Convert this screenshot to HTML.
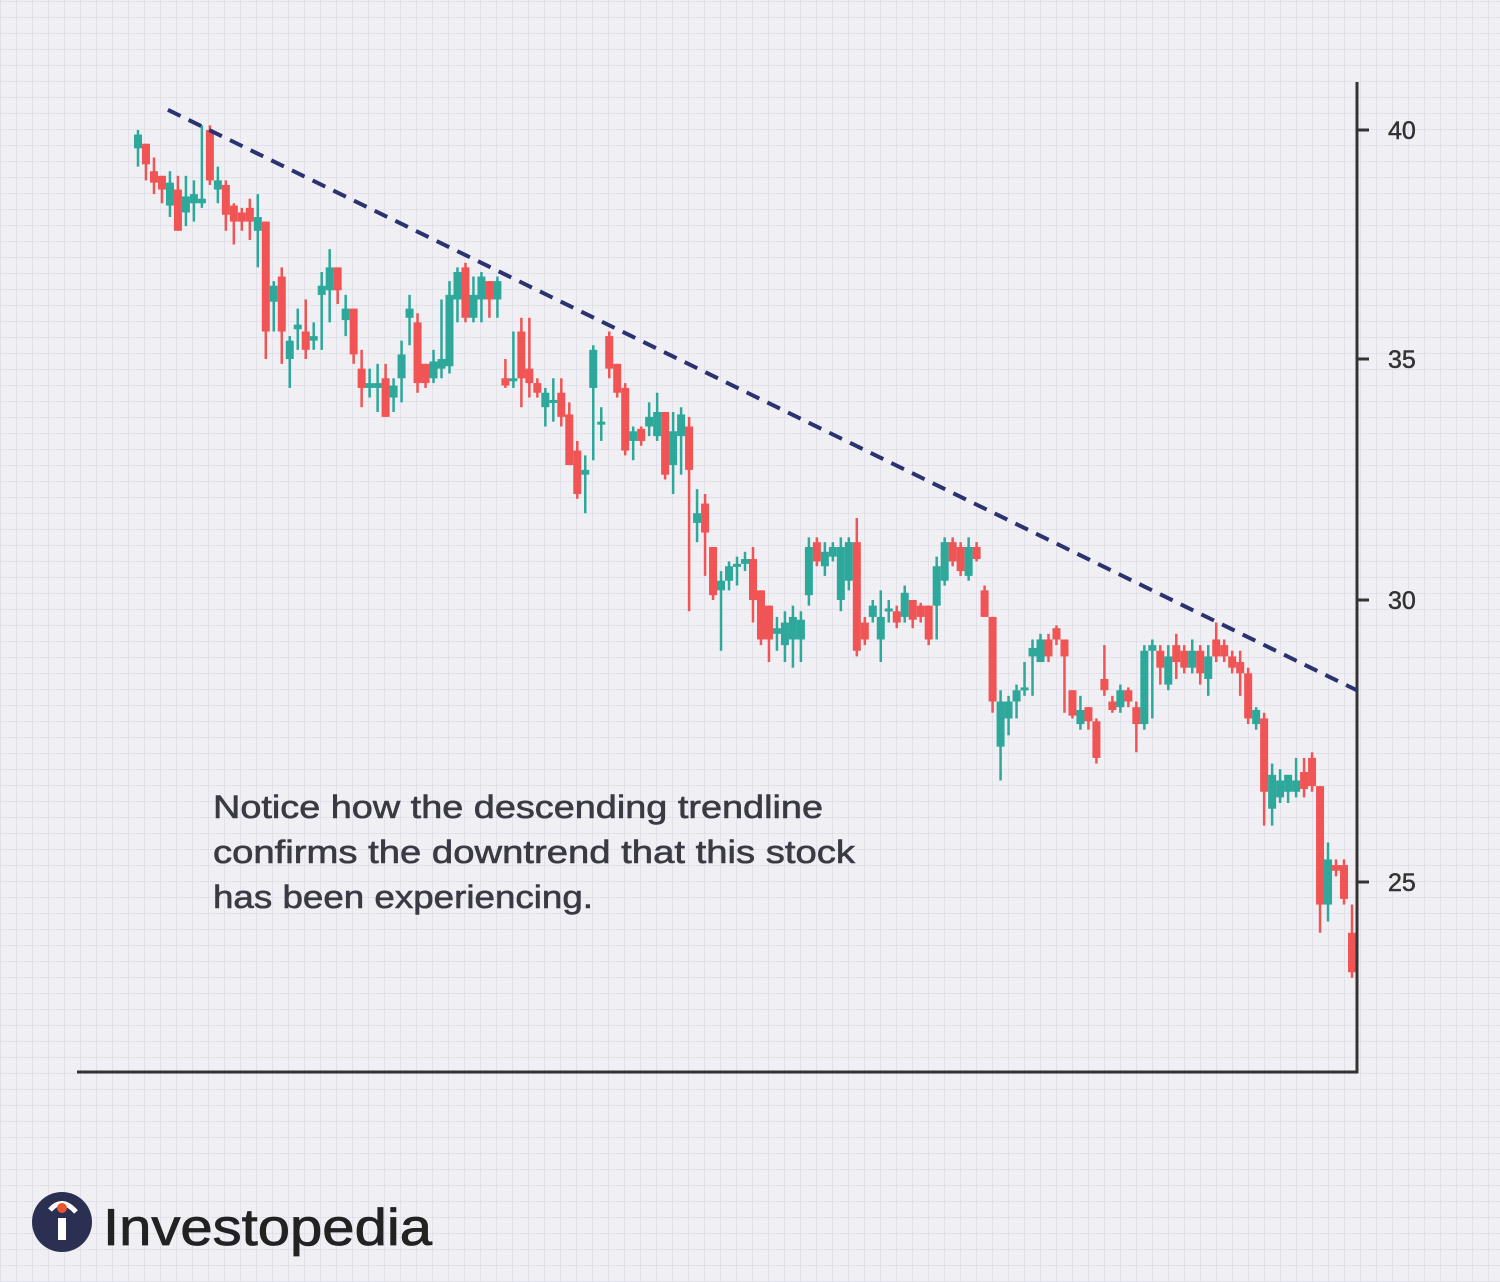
<!DOCTYPE html>
<html><head><meta charset="utf-8"><style>
html,body{margin:0;padding:0}
body{width:1500px;height:1282px;overflow:hidden;background-color:#f0eff4;
background-image:repeating-linear-gradient(0deg,rgba(200,200,215,.35) 0 1px,transparent 1px 16px),repeating-linear-gradient(90deg,rgba(200,200,215,.35) 0 1px,transparent 1px 16px);
font-family:"Liberation Sans",sans-serif}
svg{position:absolute;left:0;top:0}
</style></head><body>
<svg id="chart" width="1500" height="1282" viewBox="0 0 1500 1282">
<g id="candles"></g>
<line x1="1357" y1="82" x2="1357" y2="1073" stroke="#333" stroke-width="3"/>
<line x1="77" y1="1072" x2="1358" y2="1072" stroke="#333" stroke-width="3"/>
<g id="ticks"></g>
<line id="trend" stroke="#2b3270" stroke-width="4" stroke-dasharray="14 9"/>
<g fill="#3a3a44" stroke="#3a3a44" stroke-width="0.6" font-size="32">
<text x="213" y="818" textLength="610" lengthAdjust="spacingAndGlyphs">Notice how the descending trendline</text>
<text x="213" y="863" textLength="642" lengthAdjust="spacingAndGlyphs">confirms the downtrend that this stock</text>
<text x="213" y="908" textLength="380" lengthAdjust="spacingAndGlyphs">has been experiencing.</text>
</g>
<g>
<circle cx="62" cy="1222" r="30" fill="#2b3052"/>
<path d="M50 1210 Q62 1196 76 1212" stroke="#fff" stroke-width="5" fill="none"/>
<rect x="58" y="1218" width="8" height="22" fill="#fff"/>
<circle cx="62" cy="1208" r="5" fill="#e8552f"/>
<text x="103" y="1245" font-size="52" fill="#222" stroke="#222" stroke-width="0.8" textLength="329" lengthAdjust="spacingAndGlyphs">Investopedia</text>
</g>
</svg>
<script>
const opens=[39.6,39.7,39.1,39.0,38.35,38.7,38.2,38.4,38.4,40.0,38.7,38.8,38.35,38.2,38.3,37.8,38.0,36.25,36.8,35.0,35.65,35.6,35.4,36.4,36.5,37.0,35.85,36.1,34.8,34.4,34.4,34.6,34.2,34.6,35.9,35.8,34.9,34.6,34.8,34.85,36.3,37.0,35.9,36.3,36.7,36.3,34.6,34.55,35.6,34.8,34.5,34.0,34.1,34.3,33.85,33.1,32.6,34.4,33.65,35.5,34.9,34.4,33.3,33.55,33.6,33.4,33.9,32.8,33.4,33.6,31.6,32.0,31.1,30.2,30.4,30.7,30.75,30.85,30.2,29.9,29.4,29.2,29.3,29.3,30.1,31.2,30.7,30.9,30.0,30.4,31.2,29.6,29.7,29.3,29.8,29.8,29.7,30.0,29.9,29.9,29.9,30.4,31.2,31.1,30.5,31.1,30.2,29.7,27.4,27.9,28.2,28.4,29.0,28.9,29.3,29.5,29.3,28.4,27.8,28.1,27.85,28.6,28.2,28.1,28.4,28.1,27.8,29.1,29.1,28.5,29.2,29.1,28.8,29.1,28.6,29.3,29.2,29.0,28.9,28.7,27.8,27.9,26.3,26.5,26.6,26.6,26.95,27.2,26.7,24.6,25.3,25.3,24.1];
const closes=[39.9,39.25,38.85,38.7,38.85,37.8,38.55,38.6,38.5,38.9,38.9,38.15,38.0,38.0,38.0,38.1,35.6,36.6,35.6,35.4,35.75,35.2,35.5,36.6,37.0,36.5,36.1,35.1,34.4,34.5,34.5,33.8,34.45,35.1,36.1,34.5,34.5,34.95,35.0,36.4,36.9,35.9,36.4,36.8,36.3,36.7,34.45,34.6,34.6,34.5,34.3,34.3,34.15,33.8,32.8,32.2,32.7,35.2,33.7,34.8,34.3,33.1,33.5,33.3,33.8,33.9,32.6,33.5,33.85,32.7,31.8,31.4,30.1,30.4,30.7,30.75,30.85,30.0,29.3,29.3,29.5,29.6,29.7,29.65,31.1,30.8,31.0,31.1,31.1,31.2,29.1,29.3,29.9,29.7,29.85,29.6,30.15,29.65,29.7,29.3,30.7,31.2,30.8,30.6,31.1,30.85,29.7,28.2,28.2,28.2,28.4,28.45,29.15,29.3,29.0,29.3,29.0,27.95,28.05,27.85,27.2,28.4,28.05,28.4,28.2,27.8,29.1,29.2,28.8,29.0,28.9,28.8,29.1,28.7,29.0,29.0,29.0,28.8,28.7,27.9,28.05,26.6,26.9,26.8,26.9,26.8,26.65,26.7,24.6,25.4,25.2,24.7,23.4];
const highs=[40.0,39.7,39.4,39.0,39.1,39.0,39.0,38.9,40.1,40.1,39.2,38.9,38.4,38.3,38.5,38.6,38.0,36.7,37.0,35.5,36.1,36.3,35.8,36.9,37.4,37.0,36.4,36.1,35.2,34.8,34.9,34.9,34.6,35.4,36.4,36.0,34.9,35.2,36.3,36.7,37.0,37.1,36.8,36.9,36.7,36.8,35.0,35.6,35.9,35.9,34.6,34.4,34.6,34.6,34.1,33.3,33.0,35.3,34.0,35.6,34.9,34.5,33.6,33.6,34.1,34.3,33.9,33.9,34.0,33.8,32.3,32.2,31.1,30.6,30.8,30.9,31.0,31.1,30.2,29.9,29.7,29.8,29.9,29.8,31.3,31.3,31.2,31.2,31.3,31.3,31.7,29.7,30.0,30.2,30.0,29.9,30.3,30.0,29.95,29.9,30.9,31.3,31.3,31.2,31.3,31.2,30.3,29.7,28.4,28.3,28.5,28.9,29.3,29.4,29.4,29.55,29.3,28.4,28.3,28.1,27.9,29.2,28.3,28.5,28.45,28.2,29.2,29.3,29.2,29.2,29.4,29.2,29.3,29.2,29.2,29.6,29.3,29.1,29.1,28.8,28.1,28.0,27.1,27.0,26.9,27.2,27.2,27.3,26.7,25.7,25.4,25.4,24.6];
const lows=[39.2,38.9,38.6,38.4,38.1,37.8,37.9,38.0,38.3,38.8,38.4,37.8,37.5,37.8,37.6,37.0,35.0,35.6,34.9,34.4,35.2,35.0,35.2,35.2,35.8,36.2,35.5,34.9,34.0,34.2,33.9,33.8,33.9,34.1,35.3,34.3,34.4,34.5,34.6,34.7,35.8,35.8,35.8,35.8,35.9,35.9,34.4,34.4,34.0,34.2,34.2,33.6,33.7,33.6,32.8,32.1,31.8,32.9,33.3,34.6,34.2,33.0,32.9,33.2,33.4,33.3,32.5,32.2,32.6,29.8,31.2,30.5,30.0,29.1,30.2,30.3,30.6,29.6,29.2,28.9,29.1,28.9,28.8,28.9,29.9,30.7,30.5,30.8,29.8,30.2,29.0,29.2,29.6,28.9,29.6,29.5,29.6,29.5,29.6,29.2,29.3,30.3,30.7,30.5,30.4,30.8,29.7,28.0,26.8,27.6,27.9,28.3,28.3,28.9,28.9,29.2,28.0,27.9,27.7,27.7,27.1,28.3,28.0,28.0,28.1,27.3,27.7,27.9,28.5,28.4,28.6,28.7,28.7,28.5,28.3,28.9,28.9,28.7,28.3,27.8,27.7,26.0,26.0,26.4,26.4,26.5,26.5,26.6,24.1,24.3,25.1,24.6,23.3];
const tickValues=[40,35,30,25];
const tickLabels=["40","35","30","25"];
const trendPrices=[40.44,28.4];
const trendIdx=[3.75,152.6];

const NS="http://www.w3.org/2000/svg";
const yStops=[[45,-99],[40,130],[35,359],[30,600],[25,882],[20,1164]];
function yScale(v){for(let i=0;i<yStops.length-1;i++){const a=yStops[i],b=yStops[i+1];if(v<=a[0]&&v>=b[0]){return a[1]+(a[0]-v)/(a[0]-b[0])*(b[1]-a[1]);}}return v>45?-99:1164;}
const n=opens.length;
function xScale(i){return 138+i*(1352-138)/(n-1);}
const g=document.getElementById('candles');
for(let i=0;i<n;i++){
 const up=closes[i]>=opens[i];const col=up?'#2da89b':'#f05454';const x=xScale(i);
 const w=document.createElementNS(NS,'line');
 
 
 w.setAttribute('x1',x);w.setAttribute('x2',x);w.setAttribute('y1',yScale(highs[i]));w.setAttribute('y2',yScale(lows[i]));
 w.setAttribute('stroke',col);w.setAttribute('stroke-width','2.5');g.appendChild(w);
 const r=document.createElementNS(NS,'rect');
 
 
 const y1=yScale(Math.max(opens[i],closes[i])),y2=yScale(Math.min(opens[i],closes[i]));
 r.setAttribute('x',x-4);r.setAttribute('width',8);r.setAttribute('y',y1);r.setAttribute('height',Math.max(3,y2-y1));
 r.setAttribute('fill',col);g.appendChild(r);
}
const tg=document.getElementById('ticks');
tickValues.forEach((v,k)=>{
 const y=yScale(v);
 const l=document.createElementNS(NS,'line');
 
 
 l.setAttribute('x1',1357);l.setAttribute('x2',1369);l.setAttribute('y1',y);l.setAttribute('y2',y);l.setAttribute('stroke','#333');l.setAttribute('stroke-width','3');tg.appendChild(l);
 const t=document.createElementNS(NS,'text');
 
 
 t.setAttribute('x',1388);t.setAttribute('y',y+9);t.setAttribute('font-size','25');t.setAttribute('fill','#333');t.setAttribute('stroke','#333');t.setAttribute('stroke-width','0.5');t.textContent=tickLabels[k];tg.appendChild(t);
});
const tr=document.getElementById('trend');
tr.setAttribute('x1',xScale(trendIdx[0]));tr.setAttribute('y1',yScale(trendPrices[0]));
tr.setAttribute('x2',xScale(trendIdx[1]));tr.setAttribute('y2',yScale(trendPrices[1]));
</script>
</body></html>
